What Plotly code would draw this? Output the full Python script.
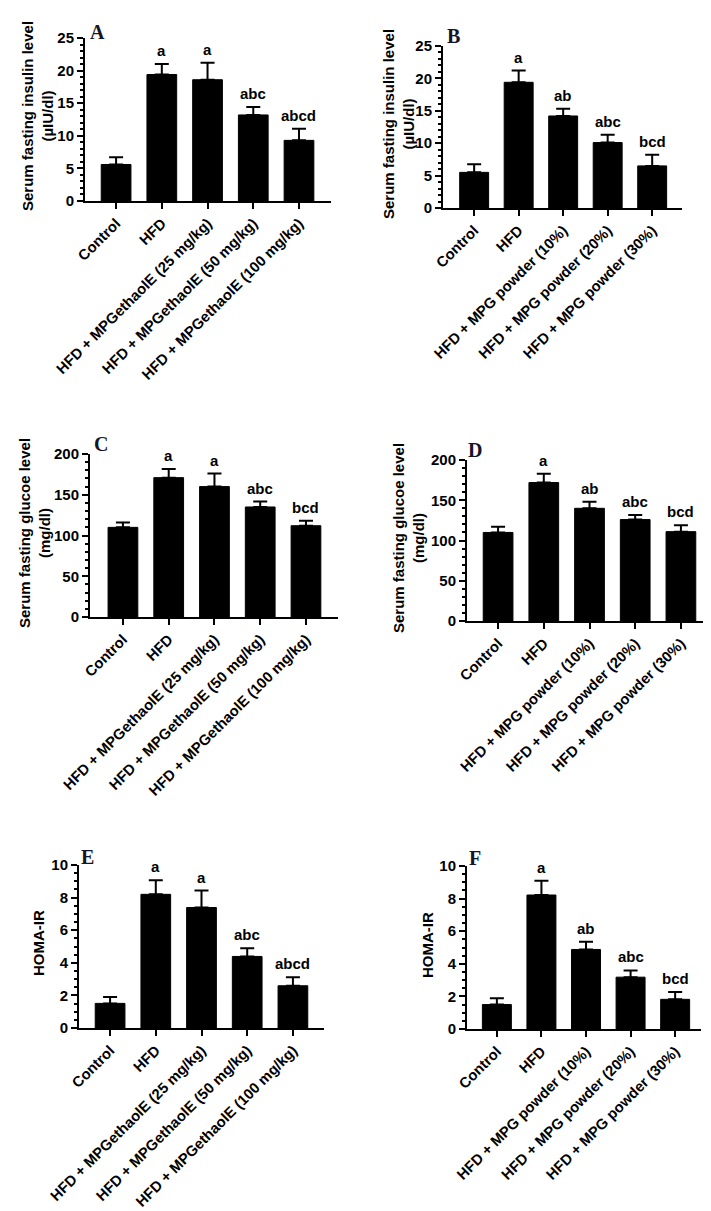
import plotly.graph_objects as go

# ---------------- data ----------------
cats_extract = ["Control", "HFD", "HFD + MPGethaolE (25 mg/kg)",
                "HFD + MPGethaolE (50 mg/kg)", "HFD + MPGethaolE (100 mg/kg)"]
cats_powder = ["Control", "HFD", "HFD + MPG powder (10%)",
               "HFD + MPG powder (20%)", "HFD + MPG powder (30%)"]

insulin_extract_mean = [5.6, 19.4, 18.6, 13.2, 9.3]
insulin_extract_sem = [1.1, 1.6, 2.6, 1.2, 1.8]
insulin_extract_letters = ["", "a", "a", "abc", "abcd"]

insulin_powder_mean = [5.5, 19.4, 14.2, 10.1, 6.5]
insulin_powder_sem = [1.25, 1.8, 1.1, 1.2, 1.7]
insulin_powder_letters = ["", "a", "ab", "abc", "bcd"]

glucose_extract_mean = [110, 171, 160, 135, 112]
glucose_extract_sem = [6, 10.6, 16, 6.6, 6]
glucose_extract_letters = ["", "a", "a", "abc", "bcd"]

glucose_powder_mean = [110, 172, 140, 126, 111]
glucose_powder_sem = [7, 11, 8, 5.7, 8]
glucose_powder_letters = ["", "a", "ab", "abc", "bcd"]

homa_extract_mean = [1.51, 8.2, 7.39, 4.39, 2.59]
homa_extract_sem = [0.39, 0.86, 1.04, 0.51, 0.53]
homa_extract_letters = ["", "a", "a", "abc", "abcd"]

homa_powder_mean = [1.5, 8.22, 4.88, 3.18, 1.82]
homa_powder_sem = [0.39, 0.88, 0.47, 0.41, 0.45]
homa_powder_letters = ["", "a", "ab", "abc", "bcd"]

insulin_title = "Serum fasting insulin level<br>(µIU/dl)"
glucose_title = "Serum fasting glucoe level<br>(mg/dl)"
homa_title = "HOMA-IR"

# ---------------- layout helpers ----------------
W, H = 711, 1211
SANS = "Arial, Liberation Sans, sans-serif"
SERIF = "Times New Roman, Liberation Serif, serif"

panels = [
    # label, cats, mean, sem, letters, title, box(px l,t,r,b), yrange, dtick, minor, xrange, title pos(px), label pos(px)
    ("A", cats_extract, insulin_extract_mean, insulin_extract_sem, insulin_extract_letters, insulin_title,
     (77, 30, 323, 193), [0, 25], 5, 1, [-0.68, 4.7], (30, 108), (89, 24)),
    ("B", cats_powder, insulin_powder_mean, insulin_powder_sem, insulin_powder_letters, insulin_title,
     (435, 38, 674, 200), [0, 25], 5, 1, [-0.7, 4.67], (390, 116), (445, 28)),
    ("C", cats_extract, glucose_extract_mean, glucose_extract_sem, glucose_extract_letters, glucose_title,
     (82, 446, 330, 609), [0, 200], 50, 10, [-0.72, 4.7], (27, 525), (93, 436)),
    ("D", cats_powder, glucose_powder_mean, glucose_powder_sem, glucose_powder_letters, glucose_title,
     (459, 452, 704, 613), [0, 200], 50, 10, [-0.68, 4.68], (400, 530), (467, 442)),
    ("E", cats_extract, homa_extract_mean, homa_extract_sem, homa_extract_letters, homa_title,
     (71, 857, 316, 1020), [0, 10], 2, 0.5, [-0.68, 4.68], (30, 935), (79, 849)),
    ("F", cats_powder, homa_powder_mean, homa_powder_sem, homa_powder_letters, homa_title,
     (459, 858, 693, 1021), [0, 10], 2, 0.5, [-0.67, 4.58], (419, 937), (467, 850)),
]

fig = go.Figure()
annotations = []
layout = {}

for i, (lab, cats, mean, sem, letters, ytitle, box, yr, dt, mn, xr, tpos, lpos) in enumerate(panels):
    n = "" if i == 0 else str(i + 1)
    xa, ya = "x" + n, "y" + n
    l, t, r, b = box
    fig.add_trace(go.Bar(
        x=cats, y=mean, xaxis=xa, yaxis=ya, width=0.65,
        marker=dict(color="black", line=dict(color="black", width=1)),
        error_y=dict(type="data", array=sem, arrayminus=[0] * len(sem), symmetric=False,
                     color="black", thickness=2, width=7),
        showlegend=False,
    ))
    layout["xaxis" + n] = dict(
        domain=[l / W, r / W], anchor=ya, type="category", range=xr, automargin=False,
        showline=True, linecolor="black", linewidth=2,
        ticks="outside", ticklen=6, tickwidth=2, tickcolor="black",
        tickangle=-45, tickfont=dict(family=SANS, size=14.8, color="black", weight="bold"),
        showgrid=False, zeroline=False, fixedrange=True,
    )
    layout["yaxis" + n] = dict(
        domain=[1 - b / H, 1 - t / H], anchor=xa, range=yr, dtick=dt, tick0=0, automargin=False,
        showline=True, linecolor="black", linewidth=2,
        ticks="outside", ticklen=6, tickwidth=2, tickcolor="black",
        minor=dict(dtick=mn, ticks="outside", ticklen=3, tickwidth=1.5, tickcolor="black"),
        tickfont=dict(family=SANS, size=15, color="black", weight="bold"),
        showgrid=False, zeroline=False, fixedrange=True,
    )
    # significance letters
    for c, m, s, txt in zip(cats, mean, sem, letters):
        if txt:
            annotations.append(dict(
                x=c, y=m + s, xref=xa, yref=ya, text=txt, showarrow=False,
                yanchor="bottom", yshift=3,
                font=dict(family=SANS, size=15, color="black", weight="bold"),
            ))
    # y-axis title
    annotations.append(dict(
        x=tpos[0] / W, y=1 - tpos[1] / H, xref="paper", yref="paper",
        text=ytitle, textangle=-90, showarrow=False, xanchor="center", yanchor="middle",
        font=dict(family=SANS, size=15, color="black", weight="bold"),
    ))
    # panel label
    annotations.append(dict(
        x=lpos[0] / W, y=1 - lpos[1] / H, xref="paper", yref="paper",
        text=lab, showarrow=False, xanchor="center", yanchor="middle",
        font=dict(family=SERIF, size=20, color="#14142a", weight="bold"),
    ))

fig.update_layout(
    width=W, height=H, margin=dict(l=0, r=0, t=0, b=0, autoexpand=False),
    paper_bgcolor="white", plot_bgcolor="white",
    annotations=annotations, bargap=0.3,
    **layout,
)

fig.write_html("out.html")
